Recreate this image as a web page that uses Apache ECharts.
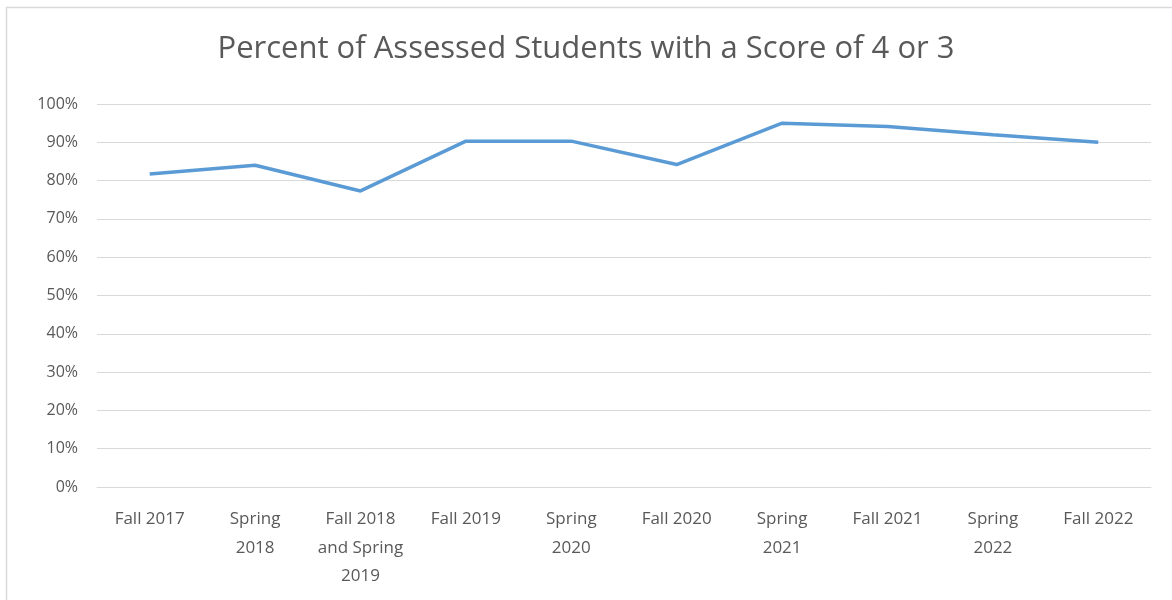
<!DOCTYPE html>
<html>
<head>
<meta charset="utf-8">
<script src="https://cdn.jsdelivr.net/npm/echarts@6/dist/echarts.min.js"></script>
<style>
  html, body { margin: 0; padding: 0; background: #fff; }
  #chart { width: 1172px; height: 600px; }
</style>
</head>
<body>
<div id="chart"></div>
<script>
// Dados do gráfico
const categories = [
    'Fall 2017', 'Spring\n2018', 'Fall 2018\nand Spring\n2019', 'Fall 2019', 'Spring\n2020',
    'Fall 2020', 'Spring\n2021', 'Fall 2021', 'Spring\n2022', 'Fall 2022'
]
const percentValues = [81.7, 84, 77.3, 90.3, 90.3, 84.2, 95, 94.1, 92, 90]
const titleText = 'Percent of Assessed Students with a Score of 4 or 3'

const textColor = '#595959'
const gridColor = '#d9d9d9'
const lineColor = '#5b9bd5'
const fontFamily = 'Open Sans, sans-serif'

const myChart = echarts.init(document.getElementById('chart'))

const option = {
    backgroundColor: '#fff',
    animation: false,
    title: {
        text: titleText,
        left: 'center',
        top: 29,
        textStyle: {
            color: textColor,
            fontSize: 31,
            fontWeight: 'normal',
            fontFamily: fontFamily
        }
    },
    graphic: [
        {
            type: 'rect',
            shape: { x: 6.5, y: 7.5, width: 1200, height: 700 },
            style: { fill: 'none', stroke: gridColor, lineWidth: 1.5 },
            silent: true
        }
    ],
    grid: {
        left: 97,
        right: 21,
        top: 104,
        bottom: 113
    },
    xAxis: {
        type: 'category',
        data: categories,
        boundaryGap: true,
        axisLine: { lineStyle: { color: gridColor, width: 1 } },
        axisTick: { show: false },
        axisLabel: {
            color: textColor,
            fontSize: 17,
            fontFamily: fontFamily,
            lineHeight: 28.5,
            margin: 18,
            interval: 0
        }
    },
    yAxis: {
        type: 'value',
        min: 0,
        max: 100,
        interval: 10,
        axisLine: { show: false },
        axisTick: { show: false },
        splitLine: { lineStyle: { color: gridColor, width: 1 } },
        axisLabel: {
            color: textColor,
            fontSize: 16,
            fontFamily: fontFamily,
            margin: 19,
            formatter: v => v + '%'
        }
    },
    series: [
        {
            name: titleText,
            type: 'line',
            data: percentValues,
            showSymbol: false,
            symbol: 'none',
            lineStyle: { color: lineColor, width: 3.5 },
            itemStyle: { color: lineColor }
        }
    ]
}

myChart.setOption(option)
</script>
</body>
</html>
